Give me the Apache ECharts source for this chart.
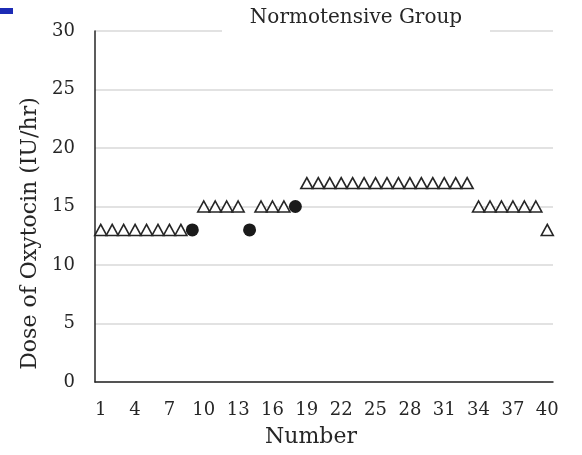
<!DOCTYPE html>
<html>
<head>
<meta charset="utf-8">
<script src="https://cdn.jsdelivr.net/npm/echarts@6/dist/echarts.min.js"></script>
<style>
  html, body { margin: 0; padding: 0; background: #fff; }
  #chart { width: 582px; height: 455px; }
</style>
</head>
<body>
<div id="chart"></div>
<script>
// Patient numbers 1..40
const patients = Array.from({ length: 40 }, (_, i) => String(i + 1));

// Oxytocin dose per patient (IU/hr); '-' where that marker type is absent
const triangleDose = [
  13, 13, 13, 13, 13, 13, 13, 13, '-', 15,
  15, 15, 15, '-', 15, 15, 15, '-', 17, 17,
  17, 17, 17, 17, 17, 17, 17, 17, 17, 17,
  17, 17, 17, 15, 15, 15, 15, 15, 15, 13
];
const circleDose = [
  '-', '-', '-', '-', '-', '-', '-', '-', 13, '-',
  '-', '-', '-', 13, '-', '-', '-', 15, '-', '-',
  '-', '-', '-', '-', '-', '-', '-', '-', '-', '-',
  '-', '-', '-', '-', '-', '-', '-', '-', '-', '-'
];

const titleText = 'Normotensive Group';
const yAxisTitle = 'Dose of Oxytocin (IU/hr)';
const xAxisTitle = 'Number';

const FONT = 'DejaVu Serif';
const TEXT = '#262626';

const chart = echarts.init(document.getElementById('chart'), null, { renderer: 'canvas' });

chart.setOption({
  animation: false,
  backgroundColor: '#fff',
  grid: { left: 95, right: 29, top: 31, bottom: 73, containLabel: false },
  graphic: [
    { type: 'rect', left: 0, top: 8, shape: { width: 13, height: 6 }, style: { fill: '#1c2bb5' } },
    { type: 'rect', z: 50, shape: { x: 222, y: 22, width: 268, height: 16 }, style: { fill: '#fff' } },
    {
      type: 'text', z: 51, x: 356, y: 18,
      style: { text: titleText, fill: TEXT, font: '20px "' + FONT + '"', align: 'center', verticalAlign: 'middle' }
    }
  ],
  xAxis: {
    type: 'category',
    data: patients,
    boundaryGap: true,
    name: xAxisTitle,
    nameLocation: 'middle',
    nameGap: 44,
    nameTextStyle: { fontFamily: FONT, fontSize: 22, color: TEXT, padding: [0, 26, 0, 0] },
    axisLine: { show: true, lineStyle: { color: '#262626', width: 1.5 } },
    axisTick: { show: false },
    axisLabel: { interval: 2, hideOverlap: false, margin: 19, fontFamily: FONT, fontSize: 18, color: TEXT },
    splitLine: { show: false }
  },
  yAxis: {
    type: 'value',
    min: 0,
    max: 30,
    interval: 5,
    name: yAxisTitle,
    nameLocation: 'middle',
    nameGap: 47,
    nameTextStyle: { fontFamily: FONT, fontSize: 22, color: TEXT, padding: [0, 54, 0, 0] },
    axisLine: { show: true, lineStyle: { color: '#262626', width: 1.5 } },
    axisTick: { show: false },
    axisLabel: { margin: 20, fontFamily: FONT, fontSize: 18, color: TEXT },
    splitLine: { show: true, lineStyle: { color: '#d9d9d9', width: 1.5 } }
  },
  series: [
    {
      name: 'triangle',
      type: 'scatter',
      data: triangleDose,
      symbol: 'triangle',
      symbolSize: [12, 11],
      itemStyle: { color: '#fff', borderColor: '#262626', borderWidth: 1.6, opacity: 1 }
    },
    {
      name: 'circle',
      type: 'scatter',
      data: circleDose,
      symbol: 'circle',
      symbolSize: 13,
      itemStyle: { color: '#1a1a1a', borderWidth: 0, opacity: 1 }
    }
  ]
});
</script>
</body>
</html>
